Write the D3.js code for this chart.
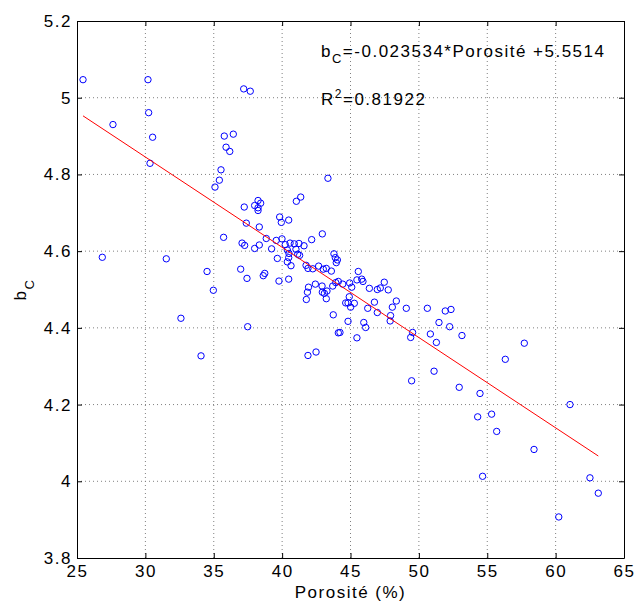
<!DOCTYPE html>
<html>
<head>
  <meta charset="utf-8">
  <title>bC vs Porosité</title>
  <script src="https://cdn.jsdelivr.net/npm/d3@7"></script>
  <style>
    body { margin: 0; background: #fff; }
    text { font-family: "Liberation Sans", Arial, sans-serif; font-size: 17px; letter-spacing: 1.5px; fill: #000; }
  </style>
</head>
<body>
  <svg width="638" height="603"></svg>

  <script>
    // porosity (%) of each sample
    const porosity = [
      25.44, 30.19, 37.19, 37.67, 27.63, 30.24, 35.77, 36.43, 30.53, 35.90,
      36.17, 30.34, 35.53, 35.41, 35.09, 37.23, 37.99, 38.24, 38.43, 38.24,
      38.24, 43.35, 41.36, 41.04, 39.82, 40.48, 39.94, 37.38, 38.33, 42.94,
      35.72, 37.07, 37.26, 38.33, 37.99, 38.84, 39.57, 39.99, 39.23, 40.23,
      40.58, 40.89, 41.23, 41.60, 42.16, 40.38, 40.50, 41.01, 41.14, 41.28,
      40.48, 39.65, 40.38, 40.65, 43.79, 43.89, 44.04, 43.96, 41.75, 41.89,
      42.24, 42.67, 43.01, 43.23, 43.60, 34.51, 36.97, 37.43, 38.62, 38.73,
      39.77, 40.48, 42.43, 43.92, 44.11, 41.93, 41.85, 42.92, 42.94, 43.09,
      43.28, 43.70, 41.77, 43.23, 34.97, 32.60, 43.74, 37.48, 44.11, 34.07,
      41.89, 42.48, 44.43, 45.57, 45.47, 45.82, 45.91, 44.94, 45.09, 46.38,
      46.96, 47.18, 47.47, 47.76, 44.91, 44.65, 44.82, 45.01, 45.28, 46.26,
      46.75, 46.96, 48.06, 48.35, 49.08, 50.62, 47.93, 47.90, 51.93, 52.35,
      51.47, 52.25, 53.15, 44.82, 44.23, 45.97, 46.11, 45.47, 49.54, 49.40,
      50.84, 51.28, 51.11, 49.47, 57.71, 56.32, 52.95, 54.47, 61.05, 54.30,
      55.32, 55.69, 58.42, 54.66, 62.51, 63.12, 60.23, 26.85, 31.53
    ];
    // measured bC of each sample
    const bc = [
      5.047, 5.047, 5.023, 5.017, 4.930, 4.961, 4.900, 4.905, 4.897, 4.871,
      4.860, 4.829, 4.812, 4.785, 4.767, 4.715, 4.719, 4.732, 4.725, 4.713,
      4.706, 4.790, 4.741, 4.730, 4.689, 4.681, 4.675, 4.673, 4.663, 4.645,
      4.636, 4.621, 4.615, 4.616, 4.607, 4.633, 4.628, 4.632, 4.606, 4.617,
      4.621, 4.619, 4.620, 4.614, 4.630, 4.603, 4.594, 4.605, 4.592, 4.589,
      4.583, 4.581, 4.572, 4.562, 4.593, 4.583, 4.577, 4.570, 4.563, 4.555,
      4.554, 4.561, 4.553, 4.555, 4.548, 4.547, 4.553, 4.529, 4.536, 4.542,
      4.522, 4.527, 4.514, 4.518, 4.521, 4.506, 4.493, 4.509, 4.493, 4.490,
      4.496, 4.509, 4.474, 4.476, 4.498, 4.425, 4.434, 4.403, 4.387, 4.327,
      4.328, 4.337, 4.514, 4.547, 4.525, 4.527, 4.521, 4.517, 4.506, 4.503,
      4.500, 4.504, 4.519, 4.499, 4.481, 4.465, 4.465, 4.454, 4.464, 4.451,
      4.467, 4.440, 4.454, 4.470, 4.451, 4.451, 4.432, 4.418, 4.444, 4.448,
      4.414, 4.403, 4.380, 4.417, 4.388, 4.414, 4.401, 4.374, 4.388, 4.375,
      4.384, 4.362, 4.287, 4.262, 4.360, 4.318, 4.245, 4.229, 4.200, 4.168,
      4.175, 4.130, 4.083, 4.013, 4.009, 3.969, 3.907, 4.584, 4.580
    ];
    const xTicks = [25, 30, 35, 40, 45, 50, 55, 60, 65];
    const yTicks = [3.8, 4, 4.2, 4.4, 4.6, 4.8, 5, 5.2];
    const slope = -0.023534;
    const intercept = 5.5514;
    const r2 = "0.81922";

    const svg = d3.select("svg");
    const pLeft = 77, pRight = 624, pTop = 21, pBottom = 558;

    const x = d3.scaleLinear().domain([25, 65]).range([pLeft, pRight]);
    const y = d3.scaleLinear().domain([3.8, 5.2]).range([pBottom, pTop]);

    // grid
    svg.append("g").selectAll("line")
      .data(xTicks.slice(1, -1))
      .enter().append("line")
      .attr("x1", d => x(d)).attr("x2", d => x(d))
      .attr("y1", pTop).attr("y2", pBottom)
      .attr("stroke", "#808080").attr("stroke-dasharray", "1,3");
    svg.append("g").selectAll("line")
      .data(yTicks.slice(1, -1))
      .enter().append("line")
      .attr("y1", d => y(d)).attr("y2", d => y(d))
      .attr("x1", pLeft).attr("x2", pRight)
      .attr("stroke", "#808080").attr("stroke-dasharray", "1,3");

    // axes (matlab style: ticks inside, box on)
    svg.append("g")
      .attr("transform", "translate(0," + pBottom + ")")
      .call(d3.axisBottom(x).tickValues(xTicks).tickFormat(d3.format("d")).tickSizeInner(-5).tickSizeOuter(0).tickPadding(7));
    svg.append("g")
      .attr("transform", "translate(" + pLeft + ",0)")
      .call(d3.axisLeft(y).tickValues(yTicks).tickFormat(d => String(d)).tickSizeInner(-5).tickSizeOuter(0).tickPadding(5));
    svg.append("g")
      .attr("transform", "translate(0," + pTop + ")")
      .call(d3.axisTop(x).tickValues(xTicks).tickFormat("").tickSizeInner(-5).tickSizeOuter(0));
    svg.append("g")
      .attr("transform", "translate(" + pRight + ",0)")
      .call(d3.axisRight(y).tickValues(yTicks).tickFormat("").tickSizeInner(-5).tickSizeOuter(0));
    svg.selectAll(".domain").attr("stroke", "#000");
    svg.selectAll(".tick line").attr("stroke", "#000");
    svg.selectAll(".tick text")
      .attr("fill", "#000")
      .style("font-family", "Liberation Sans, Arial, sans-serif")
      .style("font-size", "17px");

    // points
    const pts = porosity.map((p, i) => ({ p: p, b: bc[i] }));
    svg.append("g").selectAll("circle")
      .data(pts)
      .enter().append("circle")
      .attr("cx", d => x(d.p))
      .attr("cy", d => y(d.b))
      .attr("r", 3.2)
      .attr("fill", "none")
      .attr("stroke", "#0000ff")
      .attr("stroke-width", 1);

    // regression line over data range
    const xr = d3.extent(porosity);
    svg.append("line")
      .attr("x1", x(xr[0])).attr("y1", y(slope * xr[0] + intercept))
      .attr("x2", x(xr[1])).attr("y2", y(slope * xr[1] + intercept))
      .attr("stroke", "#ff0000").attr("stroke-width", 1);

    // labels
    svg.append("text")
      .attr("x", (pLeft + pRight) / 2).attr("y", 598)
      .attr("text-anchor", "middle")
      .text("Porosité (%)");

    const yl = svg.append("text")
      .attr("transform", "translate(26," + (pTop + pBottom) / 2 + ") rotate(-90)")
      .attr("text-anchor", "middle");
    yl.append("tspan").text("b");
    yl.append("tspan").attr("dy", 8).style("font-size", "13px").text("C");

    const eq = svg.append("text").attr("x", 321).attr("y", 57);
    eq.append("tspan").text("b");
    eq.append("tspan").attr("dy", 6).style("font-size", "13px").text("C");
    eq.append("tspan").attr("dy", -6).text("=" + slope + "*Porosité +" + intercept);

    const rt = svg.append("text").attr("x", 321).attr("y", 105);
    rt.append("tspan").text("R");
    rt.append("tspan").attr("dy", -7).style("font-size", "12px").text("2");
    rt.append("tspan").attr("dy", 7).text("=" + r2);
  </script>
</body>
</html>
